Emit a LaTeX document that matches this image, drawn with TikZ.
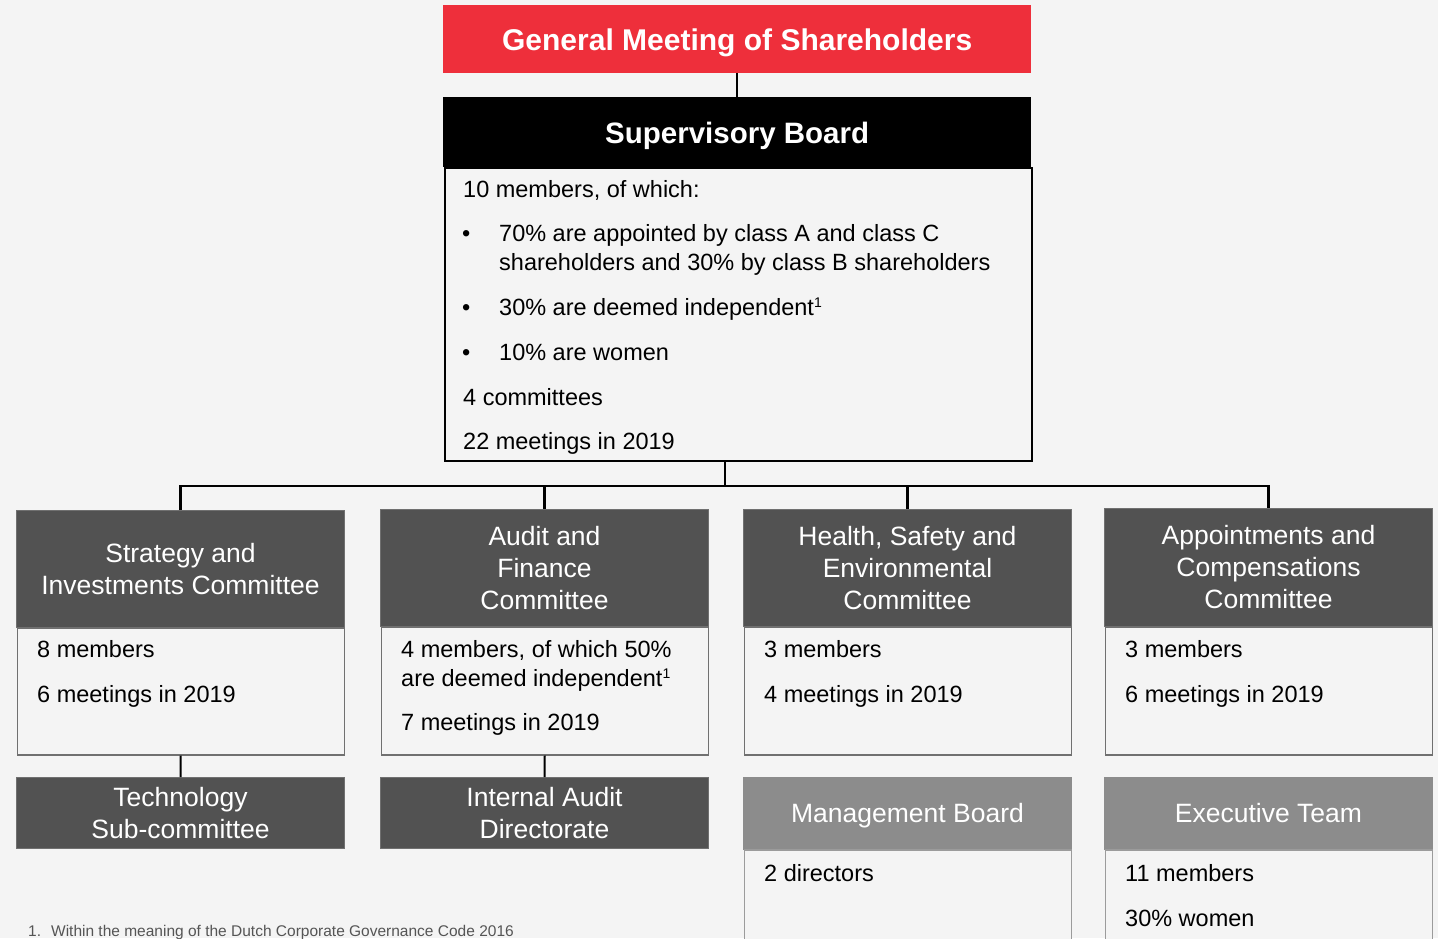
\documentclass[tikz,border=0pt]{standalone}
\usepackage{fontspec}
\setmainfont{Liberation Sans}
\usetikzlibrary{positioning}
\definecolor{gmsred}{HTML}{EE2F3B}
\definecolor{ctedark}{HTML}{525252}
\definecolor{mgmtgray}{HTML}{8C8C8C}
\definecolor{pagebg}{HTML}{F4F4F4}
\definecolor{edgegray}{HTML}{707070}
\definecolor{notegray}{HTML}{555555}
\newcommand{\fnmark}{\raisebox{8pt}{\fontsize{14}{14}\selectfont 1}}
\tikzset{
  hdr/.style={draw=edgegray, line width=1pt, fill=ctedark, text=white, anchor=north west,
    inner sep=0pt, align=center, font=\fontsize{26.5}{32}\selectfont},
  mgmthdr/.style={hdr, fill=mgmtgray, draw=mgmtgray, text height=21pt, text depth=3pt},
  bodybox/.style={draw=edgegray, line width=1.5pt, fill=pagebg, anchor=north west, inner sep=0pt},
  txt/.style={anchor=base west, inner sep=0pt, font=\fontsize{23.5}{26}\selectfont},
  topbox/.style={text=white, anchor=north west, inner sep=0pt, minimum width=588,
    text height=24pt, text depth=2pt, font=\fontsize{30}{32}\selectfont\bfseries},
  link/.style={draw=black, line width=2.5pt},
}
\begin{document}
\begin{tikzpicture}[x=1pt, y=-1pt]
  \fill[pagebg] (0,0) rectangle (1438,938);
  \useasboundingbox (0,0) rectangle (1438,938);

  % top of the chart
  \node[topbox, fill=gmsred, minimum height=68] (gms) at (443,5) {General Meeting of Shareholders};
  \node[topbox, fill=black, minimum height=70, font=\fontsize{29.5}{32}\selectfont\bfseries] (sb) at (443,97) {Supervisory Board};
  \node[draw=black, line width=2pt, fill=pagebg, anchor=north west, inner sep=0pt, minimum width=587,
    minimum height=293] (sbbody) at (443.5,167) {};
  \draw[link, line width=2pt] (gms.south) -- (sb.north);

  \node[txt] (sb1) at (463,197) {10 members, of which:};
  \node[txt] (sbb1) at (462,241) {\textbullet};
  \node[txt] (sb2) at (499,241) {70\% are appointed by class A and class C};
  \node[txt] (sb3) at (499,270) {shareholders and 30\% by class B shareholders};
  \node[txt] (sbb2) at (462,315) {\textbullet};
  \node[txt] (sb4) at (499,315) {30\% are deemed independent\fnmark};
  \node[txt] (sbb3) at (462,360) {\textbullet};
  \node[txt] (sb5) at (499,360) {10\% are women};
  \node[txt] (sb6) at (463,405) {4 committees};
  \node[txt] (sb7) at (463,449) {22 meetings in 2019};

  % committees
  \node[hdr, minimum width=328, minimum height=117] (sic) at (16,510) {Strategy and\\Investments Committee};
  \node[bodybox, minimum width=327, minimum height=127] (sicbody) at (16.5,627) {};
  \node[hdr, minimum width=328, minimum height=117] (afc) at (380,509) {Audit and\\Finance\\Committee};
  \node[bodybox, minimum width=327, minimum height=128] (afcbody) at (380.5,626) {};
  \node[hdr, minimum width=328, minimum height=117] (hsc) at (743,509) {Health, Safety and\\Environmental\\Committee};
  \node[bodybox, minimum width=327, minimum height=128] (hscbody) at (743.5,626) {};
  \node[hdr, minimum width=328, minimum height=118] (apc) at (1104,508) {Appointments and\\Compensations\\Committee};
  \node[bodybox, minimum width=327, minimum height=128] (apcbody) at (1104.5,626) {};

  \node[txt] (sic1) at (37,657) {8 members};
  \node[txt] (sic2) at (37,702) {6 meetings in 2019};
  \node[txt] (afc1) at (401,657) {4 members, of which 50\%};
  \node[txt] (afc2) at (401,686) {are deemed independent\fnmark};
  \node[txt] (afc3) at (401,730) {7 meetings in 2019};
  \node[txt] (hsc1) at (764,657) {3 members};
  \node[txt] (hsc2) at (764,702) {4 meetings in 2019};
  \node[txt] (apc1) at (1125,657) {3 members};
  \node[txt] (apc2) at (1125,702) {6 meetings in 2019};

  % links from the board
  \coordinate (junc) at (725,486);
  \draw[link] (sbbody.south -| junc) -- (junc);
  \draw[link] (sic.north) |- (apc.north |- junc) -- (apc.north);
  \draw[link] (afc.north) -- (afc.north |- junc);
  \draw[link] (hsc.north) -- (hsc.north |- junc);

  % lower boxes
  \node[hdr, minimum width=328, minimum height=71] (tech) at (16,777) {Technology\\Sub-committee};
  \node[hdr, minimum width=328, minimum height=71] (iad) at (380,777) {Internal Audit\\Directorate};
  \draw[link, line width=2pt] (sicbody.south) -- (tech.north);
  \draw[link, line width=2pt] (afcbody.south) -- (iad.north);

  \node[mgmthdr, minimum width=328, minimum height=72] (mb) at (743,777) {Management Board};
  \node[bodybox, draw=edgegray!70, minimum width=327, minimum height=120] (mbbody) at (743.5,849) {};
  \node[mgmthdr, minimum width=328, minimum height=72] (et) at (1104,777) {Executive Team};
  \node[bodybox, draw=edgegray!70, minimum width=327, minimum height=120] (etbody) at (1104.5,849) {};

  \node[txt] (mb1) at (764,881) {2 directors};
  \node[txt] (et1) at (1125,881) {11 members};
  \node[txt] (et2) at (1125,926) {30\% women};

  % footnote
  \node[anchor=base west, inner sep=0pt, text=notegray, font=\fontsize{15.5}{16}\selectfont] (fn) at (28,936)
    {1.\hspace{10pt}Within the meaning of the Dutch Corporate Governance Code 2016};
\end{tikzpicture}
\end{document}
